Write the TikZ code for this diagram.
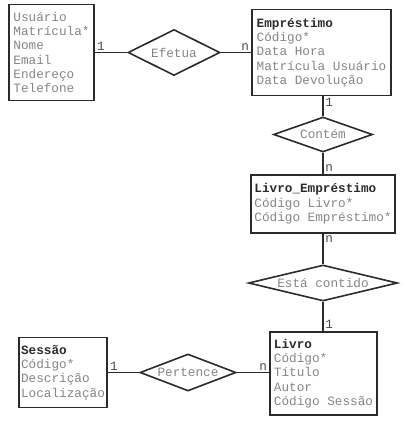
\documentclass[tikz,border=0pt]{standalone}
\usepackage{fontspec}
\setmainfont{Liberation Mono}
\usetikzlibrary{shapes.geometric}
\definecolor{txtgray}{HTML}{858585}
\definecolor{edgegray}{HTML}{2B2B2B}
\tikzset{
    entity/.style={draw=edgegray, line width=1.6pt, align=left, text=txtgray, inner sep=2pt, font=\fontsize{12.7}{14.3}\selectfont},
    rel/.style={diamond, draw=edgegray, line width=1.6pt, text=txtgray, inner sep=0pt, aspect=3, font=\fontsize{12.7}{14.3}\selectfont},
    card/.style={text=edgegray!85, inner sep=1.5pt, font=\fontsize{12.7}{14.3}\selectfont},
    link/.style={draw=edgegray, line width=1.6pt}
}
\newcommand{\enttitle}[1]{{\color{edgegray}\textbf{#1}}}

\begin{document}
\begin{tikzpicture}[x=1pt,y=-1pt]
        \useasboundingbox (0,0) rectangle (407,432);
        \node[entity, minimum width=85pt, minimum height=96pt] (usuario) at (51.5,52.5)
            {Usuário\\Matrícula*\\Nome\\Email\\Endereço\\Telefone};
        \node[entity, minimum width=139pt, minimum height=86pt] (emprestimo) at (321.5,52.5)
            {\enttitle{Empréstimo}\\Código*\\Data Hora\\Matrícula Usuário\\Data Devolução};
        \node[entity, minimum width=144pt, minimum height=58pt] (livroemp) at (323,204)
            {\enttitle{Livro\_Empréstimo}\\Código Livro*\\Código Empréstimo*};
        \node[entity, minimum width=107pt, minimum height=83pt] (livro) at (323.5,373.5)
            {\enttitle{Livro}\\Código*\\Título\\Autor\\Código Sessão};
        \node[entity, minimum width=88pt, minimum height=70pt] (sessao) at (63,372.5)
            {\enttitle{Sessão}\\Código*\\Descrição\\Localização};

        \node[rel, minimum width=92pt, minimum height=46pt] (efetua) at (174,52.5) {Efetua};
        \node[rel, minimum width=99pt, minimum height=35pt] (contem) at (323,134.5) {Contém};
        \node[rel, aspect=4.5, minimum width=149pt, minimum height=36pt] (contido) at (323,283) {Está contido};
        \node[rel, minimum width=96pt, minimum height=37pt] (pertence) at (188,372.5) {Pertence};

        \draw[link] (usuario.east) -- node[card, pos=0, above right] {1} (efetua.west);
        \draw[link] (efetua.east) -- node[card, pos=1, above left] {n} (emprestimo.west);
        \draw[link] (emprestimo.south -| contem.north) -- node[card, pos=0, below right] {1} (contem.north);
        \draw[link] (contem.south) -- node[card, pos=1, above right] {n} (livroemp.north);
        \draw[link] (livroemp.south) -- node[card, pos=0, below right] {n} (contido.north);
        \draw[link] (contido.south) -- node[card, pos=1, above right] {1} (livro.north -| contido.south);
        \draw[link] (sessao.east) -- node[card, pos=0, above right] {1} (pertence.west);
        \draw[link] (pertence.east) -- node[card, pos=1, above left] {n} (livro.west |- pertence.east);
    \end{tikzpicture}
\end{document}
